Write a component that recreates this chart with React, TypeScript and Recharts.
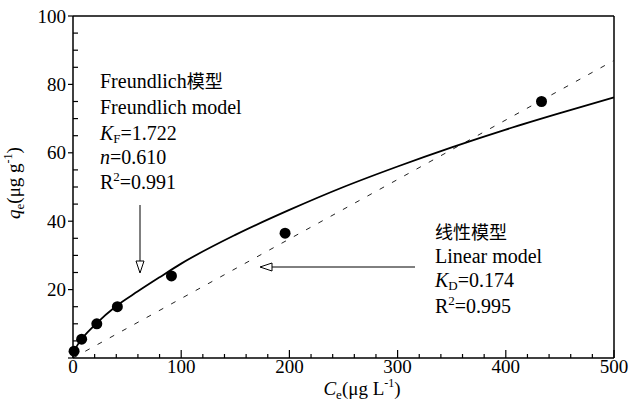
import React from "react"
import {
  ComposedChart,
  Line,
  Scatter,
  XAxis,
  YAxis,
  ReferenceLine,
} from "recharts"

// measured points (Ce, qe)
const obsC = [1, 8, 22, 41, 91, 196, 433]
const obsQ = [2, 5.5, 10, 15, 24, 36.5, 75]

// Freundlich fitted curve
const freundC = [1, 5, 10, 20, 40, 60, 80, 100, 150, 200, 250, 300, 350, 400, 450, 500]
const freundQ = [2, 4.2, 6.3, 9.6, 15.2, 19.5, 23.6, 27.6, 36, 43.3, 50, 56, 61.6, 66.8, 71.6, 76.2]

// linear model line
const linearC = [0, 500]
const linearQ = [0, 87]

const xTicks = [0, 20, 40, 60, 80, 100, 120, 140, 160, 180, 200, 220, 240, 260, 280, 300, 320, 340, 360, 380, 400, 420, 440, 460, 480, 500]
const yTicks = [0, 5, 10, 15, 20, 25, 30, 35, 40, 45, 50, 55, 60, 65, 70, 75, 80, 85, 90, 95, 100]

const obsData = obsC.map((c, i) => ({ x: c, y: obsQ[i] }))
const freundData = freundC.map((c, i) => ({ x: c, y: freundQ[i] }))
const linearData = linearC.map((c, i) => ({ x: c, y: linearQ[i] }))

const SERIF = '"Liberation Serif", "Times New Roman", serif'
const CJK = '"Noto Sans CJK SC", sans-serif'

function YTick(props: any) {
  const { x, y, payload } = props
  const v = payload.value
  const major = v % 20 === 0
  return (
    <g>
      {major ? (
        <line x1={x - 5} x2={x} y1={y} y2={y} stroke="#000" strokeWidth={1.2} />
      ) : (
        <line x1={x} x2={x + 5} y1={y} y2={y} stroke="#000" strokeWidth={1.2} />
      )}
      {major && v > 0 && (
        <text x={x - 7} y={y} dy="0.35em" textAnchor="end" fontFamily={SERIF} fontSize={19} fill="#000">
          {v}
        </text>
      )}
    </g>
  )
}

function XTick(props: any) {
  const { x, y, payload } = props
  const v = payload.value
  const major = v % 100 === 0
  return (
    <g>
      <line x1={x} x2={x} y1={y} y2={y - (major ? 8 : 4)} stroke="#000" strokeWidth={1.2} />
      {major && (
        <text x={x} y={y + 15} textAnchor="middle" fontFamily={SERIF} fontSize={19} fill="#000">
          {v}
        </text>
      )}
    </g>
  )
}

const dotShape = (p: any) => <circle cx={p.cx} cy={p.cy} r={5.5} fill="#000" />

export default function App() {
  return (
    <div style={{ position: "absolute", left: 0, top: 0, width: 630, height: 407, background: "#fff" }}>
      <ComposedChart width={630} height={407} margin={{ top: 16, right: 16, bottom: 0, left: 0 }}>
        <XAxis
          dataKey="x"
          type="number"
          domain={[0, 500]}
          ticks={xTicks}
          interval={0}
          height={49}
          tickSize={0}
          tickMargin={0}
          tickLine={false}
          tick={<XTick />}
          axisLine={{ stroke: "#000", strokeWidth: 1.5 }}
        />
        <YAxis
          type="number"
          domain={[0, 100]}
          ticks={yTicks}
          interval={0}
          width={73}
          tickSize={0}
          tickMargin={0}
          tickLine={false}
          tick={<YTick />}
          axisLine={{ stroke: "#000", strokeWidth: 1.5 }}
        />
        <ReferenceLine y={100} stroke="#000" strokeWidth={1.5} />
        <ReferenceLine x={500} stroke="#000" strokeWidth={1.5} />
        <Line
          data={linearData}
          dataKey="y"
          type="linear"
          stroke="#222"
          strokeWidth={1}
          strokeDasharray="5 9"
          dot={false}
          isAnimationActive={false}
        />
        <Line
          data={freundData}
          dataKey="y"
          type="monotone"
          stroke="#000"
          strokeWidth={1.8}
          dot={false}
          isAnimationActive={false}
        />
        <Scatter data={obsData} dataKey="y" fill="#000" shape={dotShape} isAnimationActive={false} />
      </ComposedChart>
      <svg
        width={630}
        height={407}
        style={{ position: "absolute", left: 0, top: 0, pointerEvents: "none" }}
      >
        <g fontFamily={SERIF} fontSize={20} fill="#000">
          <text x={100} y={88}>
            Freundlich<tspan fontFamily={CJK} fontSize={18}>模型</tspan>
          </text>
          <text x={100} y={114}>Freundlich model</text>
          <text x={100} y={140}>
            <tspan fontStyle="italic">K</tspan>
            <tspan fontSize={13} dy={3}>F</tspan>
            <tspan dy={-3}>=1.722</tspan>
          </text>
          <text x={100} y={164}>
            <tspan fontStyle="italic">n</tspan>=0.610
          </text>
          <text x={100} y={189}>
            R<tspan fontSize={13} dy={-8}>2</tspan>
            <tspan dy={8}>=0.991</tspan>
          </text>

          <text x={435} y={239} fontFamily={CJK} fontSize={18}>线性模型</text>
          <text x={435} y={263}>Linear model</text>
          <text x={435} y={287}>
            <tspan fontStyle="italic">K</tspan>
            <tspan fontSize={13} dy={3}>D</tspan>
            <tspan dy={-3}>=0.174</tspan>
          </text>
          <text x={435} y={313}>
            R<tspan fontSize={13} dy={-8}>2</tspan>
            <tspan dy={8}>=0.995</tspan>
          </text>
        </g>

        {/* arrows */}
        <line x1={140} y1={205} x2={140} y2={261} stroke="#000" strokeWidth={1} />
        <polygon points="136,261 144,261 140,273" fill="#fff" stroke="#000" strokeWidth={1} />
        <line x1={415} y1={267} x2={272} y2={267} stroke="#000" strokeWidth={1} />
        <polygon points="272,263 272,271 260,267" fill="#fff" stroke="#000" strokeWidth={1} />

        {/* axis titles */}
        <text x={362} y={395} textAnchor="middle" fontFamily={SERIF} fontSize={19} fill="#000">
          <tspan fontStyle="italic">C</tspan>
          <tspan fontSize={13} dy={4}>e</tspan>
          <tspan dy={-4}>(μg L</tspan>
          <tspan fontSize={12} dy={-8}>-1</tspan>
          <tspan dy={8}>)</tspan>
        </text>
        <text
          x={0}
          y={0}
          transform="translate(20,183) rotate(-90)"
          textAnchor="middle"
          fontFamily={SERIF}
          fontSize={19}
          fill="#000"
        >
          <tspan fontStyle="italic">q</tspan>
          <tspan fontSize={13} dy={4}>e</tspan>
          <tspan dy={-4}>(μg g</tspan>
          <tspan fontSize={12} dy={-8}>-1</tspan>
          <tspan dy={8}>)</tspan>
        </text>
      </svg>
    </div>
  )
}
